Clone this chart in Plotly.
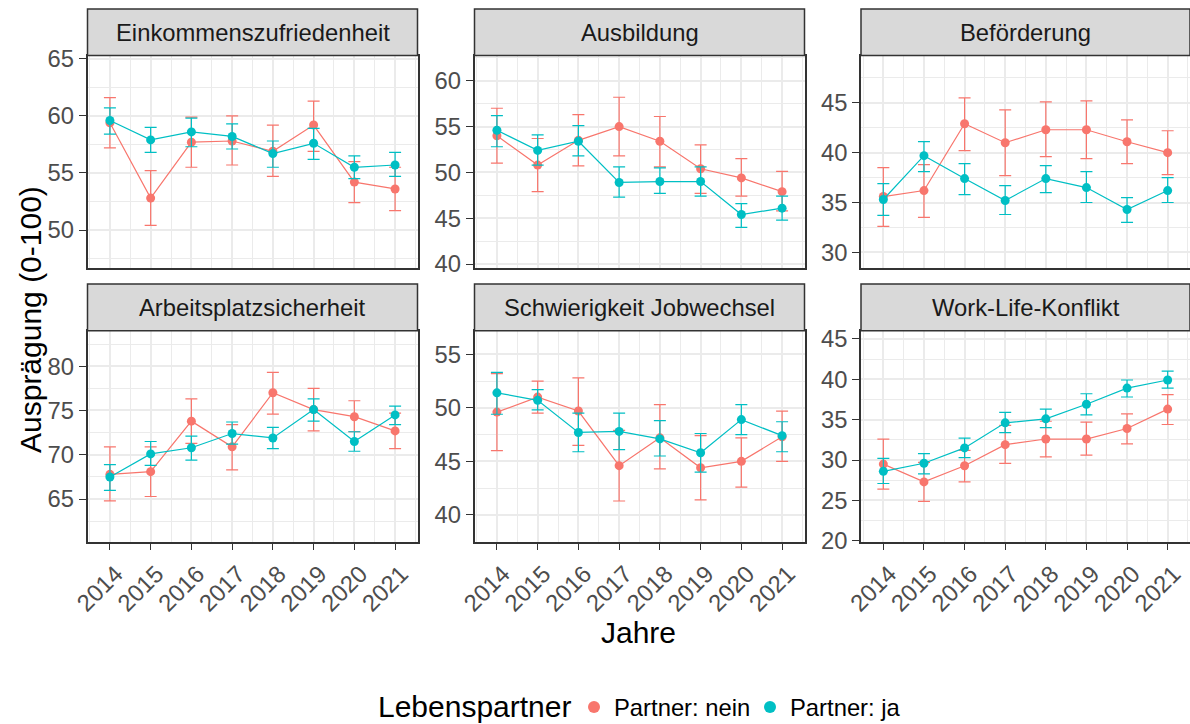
import plotly.graph_objects as go

years = [2014, 2015, 2016, 2017, 2018, 2019, 2020, 2021]
panel_titles = ["Einkommenszufriedenheit", "Ausbildung", "Beförderung",
                "Arbeitsplatzsicherheit", "Schwierigkeit Jobwechsel", "Work-Life-Konflikt"]
group_names = ["Partner: nein", "Partner: ja"]
group_colors = ["#F8766D", "#00BFC4"]
legend_title = "Lebenspartner"

# Einkommenszufriedenheit
eink_nein = [59.4, 52.8, 57.7, 57.8, 56.9, 59.2, 54.2, 53.6]
eink_nein_lo = [57.2, 50.4, 55.5, 55.7, 54.7, 56.9, 52.4, 51.7]
eink_nein_hi = [61.6, 55.2, 59.9, 60.0, 59.2, 61.3, 56.0, 55.5]
eink_ja = [59.6, 57.9, 58.6, 58.2, 56.7, 57.6, 55.5, 55.7]
eink_ja_lo = [58.4, 56.8, 57.3, 57.1, 55.5, 56.2, 54.5, 54.7]
eink_ja_hi = [60.7, 59.0, 59.8, 59.3, 57.8, 58.9, 56.5, 56.8]

# Ausbildung
ausb_nein = [54.0, 50.8, 53.5, 55.0, 53.4, 50.4, 49.4, 47.9]
ausb_nein_lo = [51.0, 47.9, 50.7, 51.8, 50.6, 47.7, 47.4, 45.8]
ausb_nein_hi = [57.0, 53.7, 56.3, 58.2, 56.1, 53.0, 51.5, 50.1]
ausb_ja = [54.6, 52.4, 53.4, 48.9, 49.0, 49.0, 45.4, 46.1]
ausb_ja_lo = [52.8, 50.8, 51.8, 47.3, 47.7, 47.4, 44.0, 44.8]
ausb_ja_hi = [56.2, 54.1, 55.1, 50.6, 50.5, 50.6, 46.6, 47.4]

# Beförderung
bef_nein = [35.6, 36.2, 42.9, 41.0, 42.3, 42.3, 41.1, 40.0]
bef_nein_lo = [32.6, 33.5, 40.2, 37.7, 39.6, 39.4, 38.9, 37.8]
bef_nein_hi = [38.5, 38.8, 45.5, 44.3, 45.1, 45.2, 43.3, 42.2]
bef_ja = [35.3, 39.7, 37.4, 35.2, 37.4, 36.5, 34.3, 36.2]
bef_ja_lo = [33.7, 38.1, 35.8, 33.8, 36.0, 35.0, 33.0, 35.0]
bef_ja_hi = [36.9, 41.1, 38.9, 36.7, 38.7, 38.1, 35.5, 37.5]

# Arbeitsplatzsicherheit
arb_nein = [67.8, 68.1, 73.8, 70.9, 77.0, 75.1, 74.3, 72.7]
arb_nein_lo = [64.8, 65.3, 71.3, 68.3, 74.6, 72.7, 72.6, 70.7]
arb_nein_hi = [70.9, 70.9, 76.3, 73.4, 79.3, 77.5, 76.1, 74.7]
arb_ja = [67.5, 70.1, 70.8, 72.4, 71.9, 75.1, 71.5, 74.5]
arb_ja_lo = [66.0, 68.8, 69.4, 71.2, 70.7, 73.8, 70.4, 73.4]
arb_ja_hi = [68.9, 71.5, 72.1, 73.7, 73.1, 76.3, 72.6, 75.5]

# Schwierigkeit Jobwechsel
schw_nein = [49.6, 51.0, 49.7, 44.6, 47.2, 44.4, 45.0, 47.3]
schw_nein_lo = [46.0, 49.5, 46.5, 41.3, 44.3, 41.4, 42.6, 45.0]
schw_nein_hi = [53.2, 52.5, 52.8, 47.9, 50.3, 47.4, 47.2, 49.7]
schw_ja = [51.4, 50.7, 47.7, 47.8, 47.1, 45.8, 48.9, 47.4]
schw_ja_lo = [49.4, 49.8, 45.9, 46.1, 45.5, 44.0, 47.5, 45.9]
schw_ja_hi = [53.3, 51.7, 49.5, 49.5, 48.8, 47.6, 50.3, 48.7]

# Work-Life-Konflikt
wlk_nein = [29.5, 27.3, 29.3, 31.9, 32.6, 32.6, 33.9, 36.3]
wlk_nein_lo = [26.4, 24.9, 27.3, 29.6, 30.4, 30.6, 32.0, 34.4]
wlk_nein_hi = [32.6, 29.7, 31.2, 34.3, 34.8, 34.7, 35.7, 38.1]
wlk_ja = [28.6, 29.6, 31.5, 34.6, 35.1, 36.9, 38.9, 39.9]
wlk_ja_lo = [27.1, 28.3, 30.3, 33.4, 34.0, 35.6, 37.8, 38.9]
wlk_ja_hi = [30.2, 30.8, 32.7, 35.9, 36.3, 38.2, 39.9, 41.0]

panel_data = [
    [(eink_nein, eink_nein_lo, eink_nein_hi), (eink_ja, eink_ja_lo, eink_ja_hi)],
    [(ausb_nein, ausb_nein_lo, ausb_nein_hi), (ausb_ja, ausb_ja_lo, ausb_ja_hi)],
    [(bef_nein, bef_nein_lo, bef_nein_hi), (bef_ja, bef_ja_lo, bef_ja_hi)],
    [(arb_nein, arb_nein_lo, arb_nein_hi), (arb_ja, arb_ja_lo, arb_ja_hi)],
    [(schw_nein, schw_nein_lo, schw_nein_hi), (schw_ja, schw_ja_lo, schw_ja_hi)],
    [(wlk_nein, wlk_nein_lo, wlk_nein_hi), (wlk_ja, wlk_ja_lo, wlk_ja_hi)],
]

y_ranges = [[46.7, 65.25], [39.6, 62.7], [28.46, 49.7],
            [60.2, 84.0], [37.5, 57.2], [19.9, 46.0]]

# ---- layout geometry (pixels) ----
W, H = 1190, 724
col_px = [(87.5, 417.5), (474.5, 804.5), (861.0, 1191.0)]
row_px = [(56.0, 267.7), (330.7, 541.7)]     # plot area top, bottom
strip_px = [(9.0, 55.5), (284.0, 330.7)]     # strip top, bottom

FONT = "Liberation Sans, Arial, sans-serif"
GRID = "#EBEBEB"
DARK = "#333333"
TICKTXT = "#4D4D4D"
SMALL = 23.8
BIG = 30


def px_x(v):
    return min(v / W, 1.0)


def px_y(v):
    return 1 - v / H


fig = go.Figure()
layout = dict(
    width=W, height=H,
    margin=dict(l=0, r=0, t=0, b=0, autoexpand=False),
    paper_bgcolor="white", plot_bgcolor="white",
    font=dict(family=FONT, color="black"),
    showlegend=True,
)
shapes = []
annotations = []

for i in range(6):
    r, c = divmod(i, 3)
    ax = "" if i == 0 else str(i + 1)
    xa, ya = "x" + ax, "y" + ax
    for g in range(2):
        vals, lo, hi = panel_data[i][g]
        fig.add_trace(go.Scatter(
            x=years, y=vals, xaxis=xa, yaxis=ya,
            mode="lines+markers",
            line=dict(color=group_colors[g], width=1.2),
            marker=dict(color=group_colors[g], size=9),
            error_y=dict(type="data", symmetric=False,
                         array=[h - v for h, v in zip(hi, vals)],
                         arrayminus=[v - l for v, l in zip(vals, lo)],
                         color=group_colors[g], thickness=1.2, width=6),
            showlegend=False, hoverinfo="skip",
        ))
    x0, x1 = col_px[c]
    t0, b0 = row_px[r]
    layout["xaxis" + ax] = dict(
        domain=[px_x(x0), px_x(x1)], anchor=ya, range=[2013.45, 2021.55],
        tickvals=years, ticktext=[str(y) for y in years],
        showticklabels=(r == 1), ticks="outside" if r == 1 else "",
        ticklen=7, tickwidth=1.3, tickcolor=DARK, tickangle=-45,
        ticklabelshift=6,
        tickfont=dict(size=SMALL, color=TICKTXT, family=FONT),
        showgrid=True, gridcolor=GRID, gridwidth=2,
        minor=dict(dtick=0.5, tick0=2013.5, showgrid=True, gridcolor=GRID, gridwidth=1),
        showline=True, mirror=True, linecolor=DARK, linewidth=1.5,
        zeroline=False, fixedrange=True, automargin=False,
    )
    layout["yaxis" + ax] = dict(
        domain=[px_y(b0), px_y(t0)], anchor=xa, range=y_ranges[i],
        dtick=5, tick0=0, ticks="outside", ticklen=7, tickwidth=1.3, tickcolor=DARK,
        tickfont=dict(size=SMALL, color=TICKTXT, family=FONT),
        showgrid=True, gridcolor=GRID, gridwidth=2,
        minor=dict(dtick=2.5, tick0=0, showgrid=True, gridcolor=GRID, gridwidth=1),
        showline=True, mirror=True, linecolor=DARK, linewidth=1.5,
        zeroline=False, fixedrange=True, automargin=False,
    )
    st, sb = strip_px[r]
    shapes.append(dict(type="rect", xref="paper", yref="paper",
                       x0=px_x(x0), x1=px_x(x1), y0=px_y(sb), y1=px_y(st),
                       fillcolor="#D9D9D9", line=dict(color=DARK, width=1.5), layer="above"))
    annotations.append(dict(xref="paper", yref="paper",
                            x=px_x((x0 + min(x1, W)) / 2), y=px_y((st + sb) / 2),
                            text=panel_titles[i], showarrow=False,
                            xanchor="center", yanchor="middle",
                            font=dict(size=SMALL, color="#1A1A1A", family=FONT)))

# legend entries
for g in range(2):
    fig.add_trace(go.Scatter(x=[None], y=[None], mode="markers", name=group_names[g],
                             marker=dict(color=group_colors[g], size=9), showlegend=True))

annotations.append(dict(xref="paper", yref="paper", x=px_x(638), y=px_y(632),
                        text="Jahre", showarrow=False, xanchor="center", yanchor="middle",
                        font=dict(size=BIG, color="black", family=FONT)))
annotations.append(dict(xref="paper", yref="paper", x=px_x(30), y=px_y(320),
                        text="Ausprägung (0-100)", showarrow=False, textangle=-90,
                        xanchor="center", yanchor="middle",
                        font=dict(size=BIG, color="black", family=FONT)))
annotations.append(dict(xref="paper", yref="paper", x=px_x(573), y=px_y(706),
                        text=legend_title, showarrow=False, xanchor="right", yanchor="middle",
                        font=dict(size=BIG, color="black", family=FONT)))

layout["shapes"] = shapes
layout["annotations"] = annotations
layout["legend"] = dict(
    orientation="h", x=px_x(574), xanchor="left", y=px_y(707), yanchor="middle",
    font=dict(size=SMALL, color="black", family=FONT), bgcolor="rgba(0,0,0,0)",
    itemsizing="constant", entrywidth=131, entrywidthmode="pixels",
)
fig.update_layout(**layout)

fig.write_html("out.html", config={"displayModeBar": False},
               post_script="document.body.style.margin='0';")
